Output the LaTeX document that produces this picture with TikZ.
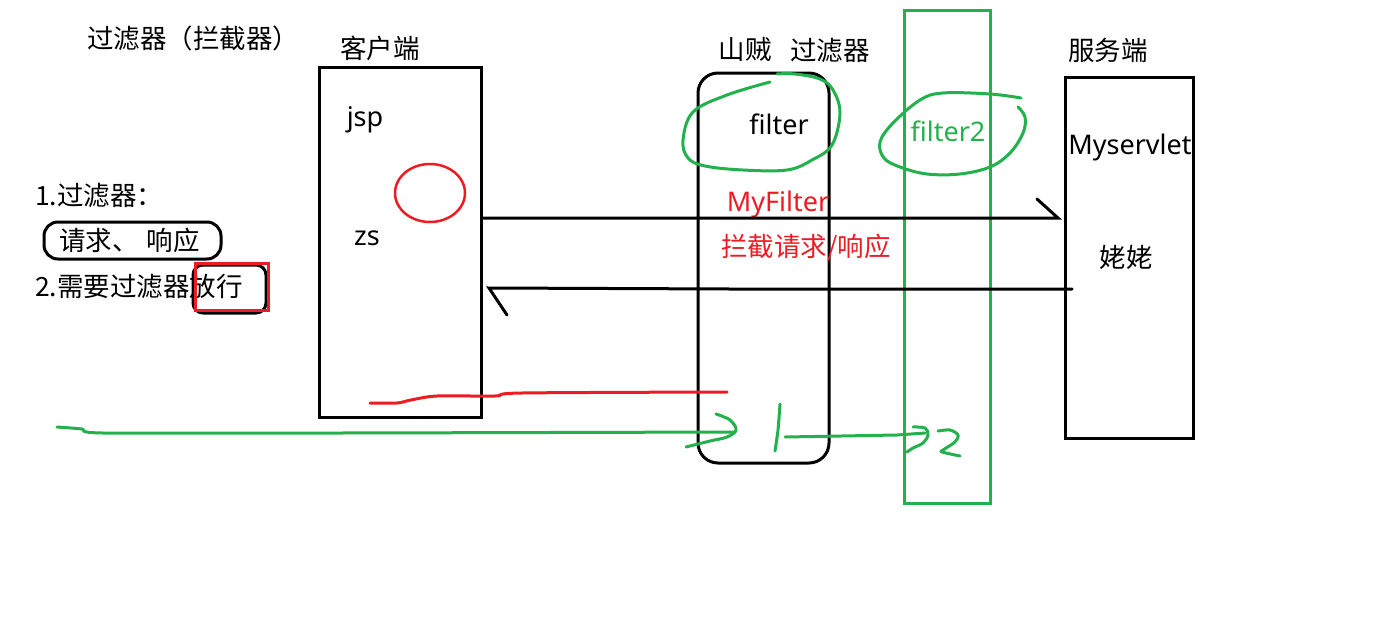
\documentclass[tikz,border=0pt]{standalone}
\usepackage{fontspec}
\setmainfont{Noto Sans}
\newfontfamily\cjk{Noto Sans CJK SC}
\definecolor{pgreen}{HTML}{22B14C}
\definecolor{pred}{HTML}{ED1C24}
\tikzset{
  zh/.style={inner sep=0pt, font=\cjk\fontsize{26.5}{30}\selectfont},
  la/.style={inner sep=0pt, font=\fontsize{27}{30}\selectfont},
  box/.style={draw=black, line width=3pt, minimum width=#1},
  gline/.style={draw=pgreen, line width=3pt, line cap=round, line join=round},
  rline/.style={draw=pred, line width=3pt, line cap=round, line join=round},
  kline/.style={draw=black, line width=3pt, line cap=round},
}
\begin{document}
\begin{tikzpicture}[x=1pt,y=-1pt]
\useasboundingbox (0,0) rectangle (1392,632);
\fill[white] (0,0) rectangle (1392,632);

% boxes
\node[box=162pt, minimum height=350pt] (client) at (400,242) {};
\node[box=131pt, minimum height=390pt, rounded corners=20pt] (filterbox) at (763.5,268) {};
\node[draw=pgreen, line width=3pt, minimum width=86pt, minimum height=493pt] (gbar) at (947,256.5) {};
\node[box=128pt, minimum height=361pt] (server) at (1129,257.5) {};

% texts
\node[zh] (title) at (193,38) {过滤器（拦截器）};
\node[zh] (ckh) at (380,48) {客户端};
\node[la] (jsp) at (365,120) {jsp};
\node[la] (zs) at (367,238) {zs};
\node[zh] (sz) at (745,50) {山贼};
\node[zh] (glq) at (830,50) {过滤器};
\node[la] (filter) at (779,124) {filter};
\node[la, text=pgreen] (filter2) at (948,131) {filter2};
\node[zh] (fwd) at (1108,50) {服务端};
\node[la] (myservlet) at (1130,147) {Myservlet};
\node[zh] (laolao) at (1126,257) {姥姥};
\node[la, text=pred] (myfilter) at (778,204) {MyFilter};
\node[zh, text=pred] (ljqq) at (806,248) {拦截请求/响应};
\node[zh, anchor=west] (l1) at (35,195) {1.过滤器：};
\node[zh, anchor=west] (qqxy) at (59,240) {请求、\hspace{8pt}响应};
\node[zh, anchor=west] (l2) at (35,286) {2.需要过滤器放行};

% annotations on the left
\draw[line width=3pt, rounded corners=14pt] (44,222) rectangle (221,259);
\draw[line width=3pt, rounded corners=10pt] (193,265) rectangle (266,313);
\draw[draw=pred, line width=3pt] (195,263) rectangle (268,310);

% red circle
\draw[pred, line width=2.5pt] (430,193) ellipse [x radius=35, y radius=29];

% request arrow
\coordinate (reqS) at (client.east |- 0,218);
\coordinate (reqE) at (1058,218);
\coordinate (reqH) at (1037,199);
\draw[kline] (reqS) -- (reqE) -- (reqH);

% response arrow
\coordinate (resS) at (1072,289);
\coordinate (resE) at (489,288);
\coordinate (resH) at (507,315);
\draw[kline] (resS) -- (730,289) -- (resE) -- (resH);

% green ellipses (hand drawn)
\draw[gline] plot[smooth, tension=0.6] coordinates {(770,82) (727,95) (693,112) (683,140) (688,158) (705,166) (743,170) (787,170) (812,160) (832,145) (840,113) (833,90) (820,79) (795,74) (777,74)};
\draw[gline] plot[smooth, tension=0.6] coordinates {(1021,98) (990,94) (943,93) (920,100) (893,123) (880,142) (884,158) (900,167) (927,174) (960,174) (990,167) (1010,153) (1023,133) (1025,117) (1018,107)};

% red hand-drawn line
\draw[rline] plot[smooth, tension=0.5] coordinates {(370,403) (397,403) (411,400) (437,396) (495,396) (522,393) (727,392)};

% green long arrow
\coordinate (gS) at (57,427);
\coordinate (gE) at (735,432);
\draw[gline] plot[smooth, tension=0.4] coordinates {(gS) (82,429) (103,433) (339,433) (gE)};
\draw[gline] plot[smooth, tension=0.6] coordinates {(716,414) (730,420) (736,430) (727,437) (710,441) (686,447)};

% green "1" and arrow to "2"
\draw[gline] plot[smooth] coordinates {(780,404) (778,430) (775,451)};
\coordinate (g2S) at (785,437);
\coordinate (g2E) at (925,433);
\draw[gline] (g2S) -- (897,435) -- (g2E);
\draw[gline] plot[smooth, tension=0.6] coordinates {(913,427) (925,428) (928,435) (923,443) (913,448) (907,452)};
\draw[gline] plot[smooth, tension=0.5] coordinates {(938,431) (950,430) (958,435) (955,442) (943,450) (942,452) (960,456)};
\end{tikzpicture}
\end{document}
